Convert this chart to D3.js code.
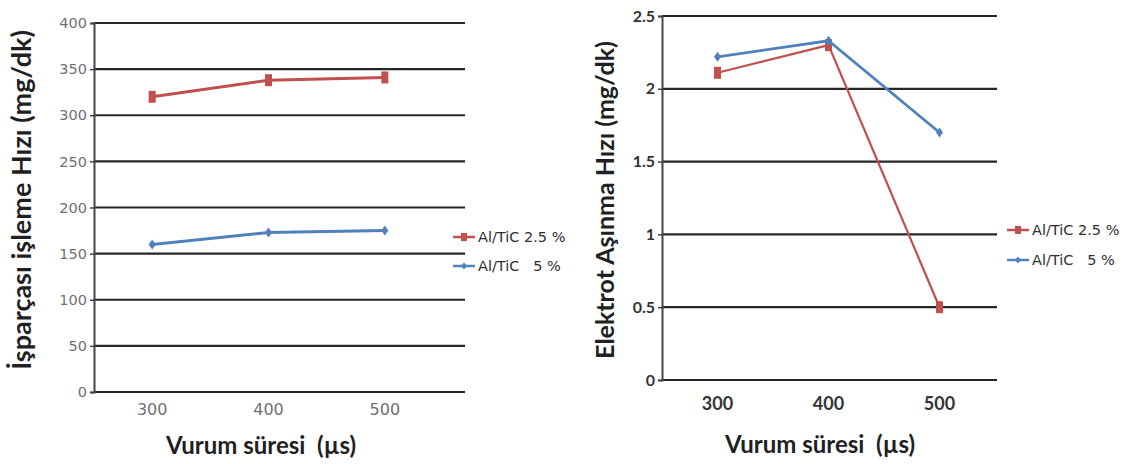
<!DOCTYPE html>
<html>
<head>
<meta charset="utf-8">
<script src="https://cdn.jsdelivr.net/npm/d3@7"></script>
<style>
  html, body { margin: 0; padding: 0; background: #fff; }
  svg { display: block; }
  text { font-family: Lato, "Open Sans", sans-serif; }
</style>
</head>
<body>
<div id="chart"></div>
<script>
// values
const categories = [300, 400, 500];
const seriesNames = ["Al/TiC 2.5 %", "Al/TiC   5 %"];
const seriesColors = ["#C0504D", "#4F81BD"];

const mrrTicks = [0, 50, 100, 150, 200, 250, 300, 350, 400];
const mrrRed = [320, 338, 341];
const mrrBlue = [160, 173, 175];

const ewrTicks = [0, 0.5, 1, 1.5, 2, 2.5];
const ewrRed = [2.11, 2.30, 0.50];
const ewrBlue = [2.22, 2.33, 1.70];

const width = 1136, height = 464;

const svg = d3.select("#chart")
  .append("svg")
  .attr("width", width)
  .attr("height", height);

function drawPanel(cfg) {
  const g = svg.append("g");

  const x = d3.scaleBand()
    .domain(cfg.categories)
    .range([cfg.left, cfg.bandRight]);

  const y = d3.scaleLinear()
    .domain([cfg.ticks[0], cfg.ticks[cfg.ticks.length - 1]])
    .range([cfg.bottom, cfg.top]);

  // horizontal grid lines
  g.append("g")
    .selectAll("line")
    .data(cfg.ticks)
    .join("line")
    .attr("x1", cfg.left)
    .attr("x2", cfg.gridRight)
    .attr("y1", d => y(d))
    .attr("y2", d => y(d))
    .attr("stroke", "#262626")
    .attr("stroke-width", 2.2);

  // y axis
  const yAxis = g.append("g")
    .attr("transform", `translate(${cfg.left},0)`)
    .call(d3.axisLeft(y).tickValues(cfg.ticks).tickSize(4).tickPadding(3).tickFormat(d3.format("")));
  yAxis.select(".domain").attr("stroke", "#444").attr("stroke-width", 2);
  yAxis.selectAll(".tick line").attr("stroke", "#444").attr("stroke-width", 1.5);
  yAxis.selectAll(".tick text")
    .attr("fill", cfg.tickColor)
    .style("font-size", cfg.yTickSize + "px")
    .style("font-weight", cfg.tickWeight)
    .style("font-family", cfg.tickFont);

  // x tick labels
  const xAxis = g.append("g")
    .attr("transform", `translate(0,${cfg.bottom})`)
    .call(d3.axisBottom(x).tickSize(0).tickPadding(cfg.xTickPad));
  xAxis.select(".domain").remove();
  xAxis.selectAll(".tick text")
    .attr("fill", cfg.tickColor)
    .style("font-size", cfg.xTickSize + "px")
    .style("font-weight", cfg.tickWeight)
    .style("font-family", cfg.tickFont);

  // series
  const line = d3.line()
    .x((d, i) => x(cfg.categories[i]) + x.bandwidth() / 2)
    .y(d => y(d));

  cfg.series.forEach((vals, si) => {
    g.append("path")
      .datum(vals)
      .attr("fill", "none")
      .attr("stroke", seriesColors[si])
      .attr("stroke-width", cfg.lineWidth[si])
      .attr("d", line);

    const pts = g.append("g")
      .selectAll("path")
      .data(vals)
      .join("path")
      .attr("transform", (d, i) => `translate(${x(cfg.categories[i]) + x.bandwidth() / 2},${y(d)})`)
      .attr("fill", seriesColors[si]);
    if (si === 0) pts.attr("d", "M-3.5,-6H3.5V6H-3.5Z");
    else pts.attr("d", "M0,-5L3.5,0L0,5L-3.5,0Z");
  });

  // legend
  const leg = g.append("g").attr("transform", `translate(${cfg.legendX},${cfg.legendY})`);
  seriesNames.forEach((name, si) => {
    const row = leg.append("g").attr("transform", `translate(0,${si * cfg.legendGap})`);
    row.append("line")
      .attr("x1", 0).attr("x2", 22)
      .attr("stroke", seriesColors[si])
      .attr("stroke-width", 2.5);
    row.append("path")
      .attr("transform", "translate(11,0)")
      .attr("fill", seriesColors[si])
      .attr("d", si === 0 ? "M-3,-4H3V4H-3Z" : "M0,-3.5L3,0L0,3.5L-3,0Z");
    row.append("text")
      .attr("x", 25)
      .attr("dy", "0.35em")
      .attr("fill", "#2e2e2e")
      .style("font-family", "'DejaVu Sans', sans-serif")
      .style("font-size", "14.5px")
      .style("white-space", "pre")
      .attr("xml:space", "preserve")
      .text(name);
  });

  // axis titles
  g.append("text")
    .attr("x", cfg.xTitleX)
    .attr("y", cfg.xTitleY)
    .attr("text-anchor", "middle")
    .attr("fill", "#1f1f24")
    .style("font-size", "24px")
    .style("font-weight", "700")
    .style("white-space", "pre")
    .attr("xml:space", "preserve")
    .text("Vurum süresi  (µs)");

  g.append("text")
    .attr("transform", `translate(${cfg.yTitleX},${cfg.yTitleY}) rotate(-90)`)
    .attr("text-anchor", "middle")
    .attr("fill", "#1f1f24")
    .style("font-size", cfg.yTitleSize + "px")
    .style("font-weight", "700")
    .text(cfg.yTitle);
}

drawPanel({
  categories: categories,
  ticks: mrrTicks,
  series: [mrrRed, mrrBlue],
  left: 94, bandRight: 443, gridRight: 465,
  top: 23, bottom: 392,
  tickColor: "#707070", tickFont: "'DejaVu Sans', sans-serif",
  yTickSize: 14.5, xTickSize: 16, tickWeight: 400, xTickPad: 12,
  lineWidth: [3, 3],
  legendX: 453, legendY: 237, legendGap: 29,
  xTitleX: 261, xTitleY: 454,
  yTitleX: 31, yTitleY: 200, yTitleSize: 27,
  yTitle: "İşparçası işleme Hızı (mg/dk)"
});

drawPanel({
  categories: categories,
  ticks: ewrTicks,
  series: [ewrRed, ewrBlue],
  left: 662, bandRight: 995, gridRight: 997,
  top: 16, bottom: 380,
  tickColor: "#333", tickFont: "Lato, sans-serif",
  yTickSize: 16, xTickSize: 18, tickWeight: 700, xTickPad: 17,
  lineWidth: [2.2, 2.8],
  legendX: 1007, legendY: 230, legendGap: 30,
  xTitleX: 820, xTitleY: 453,
  yTitleX: 614, yTitleY: 200, yTitleSize: 25,
  yTitle: "Elektrot Aşınma Hızı (mg/dk)"
});
</script>
</body>
</html>
